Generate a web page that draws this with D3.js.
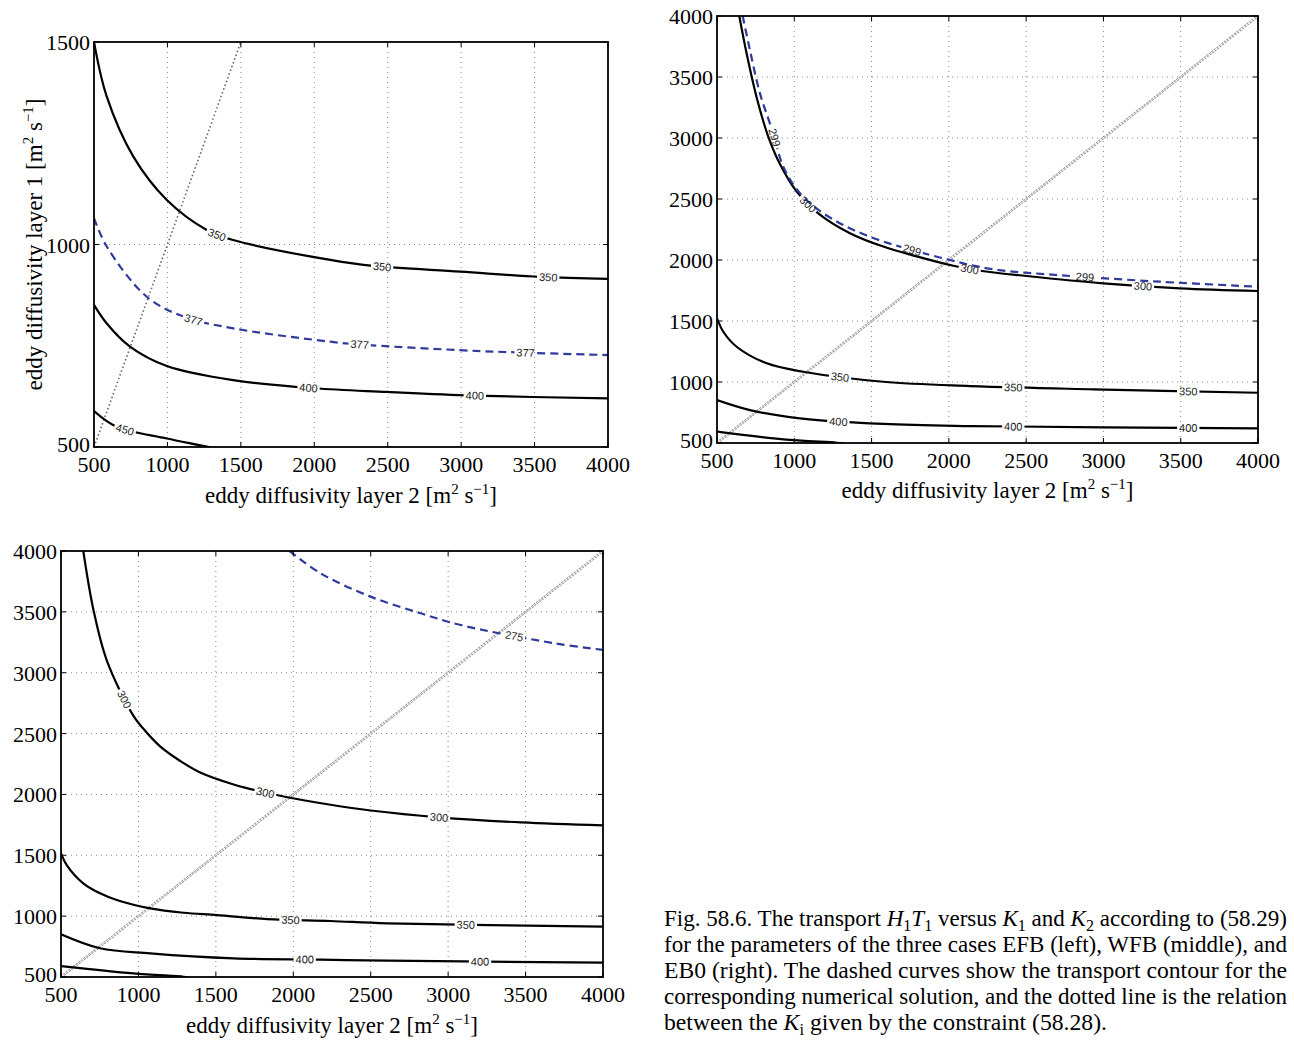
<!DOCTYPE html>
<html>
<head>
<meta charset="utf-8">
<script src="https://cdn.jsdelivr.net/npm/d3@7"></script>
<style>
    body { margin: 0; background: #fff; }
    svg { display: block; }
</style>
</head>
<body>
<div id="canvas"></div>
<script>
"use strict";

let svgWidth = 1294;
let svgHeight = 1040;

/* ---------------- DATA ---------------- */
// each curve: [K2, K1] pairs
let xTicks = [500, 1000, 1500, 2000, 2500, 3000, 3500, 4000];
let efbYTicks = [500, 1000, 1500];
let wideYTicks = [500, 1000, 1500, 2000, 2500, 3000, 3500, 4000];

let constraintLine = [[500, 500], [4000, 4000]];

// EFB (left)
let efb350 = [[500, 1500], [587, 1365], [768, 1217], [996, 1110], [1268, 1036], [1448, 1011],
    [2109, 962], [2402, 947], [2995, 933], [3541, 920], [4005, 915]];
let efb377 = [[500, 1065], [587, 995], [859, 871], [1109, 822], [1448, 793], [2109, 760],
    [2314, 753], [2995, 739], [3425, 733], [4005, 727]];
let efb400 = [[500, 851], [587, 805], [745, 748], [996, 700], [1448, 665], [2000, 645],
    [2496, 636], [3084, 627], [4005, 620]];
let efb450 = [[500, 589], [655, 550], [996, 521], [1268, 501], [1320, 496]];

// WFB (middle)
let wfb300 = [[644, 4002], [692, 3690], [757, 3330], [832, 3010], [908, 2785], [1016, 2560],
    [1155, 2383], [1360, 2220], [1576, 2110], [1792, 2030], [2029, 1953], [2201, 1912],
    [2504, 1869], [2999, 1809], [3495, 1768], [4000, 1746]];
let wfb299 = [[666, 4002], [713, 3721], [778, 3366], [864, 3038], [929, 2765], [1037, 2547],
    [1188, 2383], [1469, 2200], [2007, 2000], [2287, 1924], [2719, 1875], [3366, 1822],
    [4000, 1781]];
let wfb350 = [[500, 1522], [541, 1412], [627, 1289], [822, 1153], [1058, 1084], [1576, 1002],
    [2137, 967], [2934, 940], [4000, 912]];
let wfb400 = [[500, 852], [713, 770], [1037, 702], [1576, 656], [2137, 639], [4000, 620]];
let wfb450 = [[500, 593], [929, 530], [1274, 502], [1320, 496]];

// EB0 (right)
let eb0300 = [[644, 4000], [709, 3520], [796, 3100], [968, 2645], [1032, 2540], [1140, 2395],
    [1270, 2275], [1399, 2180], [1615, 2082], [1938, 1983], [2240, 1915], [2499, 1868],
    [2941, 1812], [3470, 1770], [4005, 1745]];
let eb0275 = [[1975, 4000], [2176, 3817], [2499, 3625], [2823, 3488], [3081, 3392],
    [3685, 3242], [4005, 3187]];
let eb0350 = [[500, 1516], [537, 1420], [644, 1270], [752, 1188], [860, 1133], [1076, 1064],
    [1291, 1028], [1507, 1009], [1831, 976], [2240, 960], [2607, 941], [4005, 913]];
let eb0400 = [[500, 851], [752, 736], [1076, 694], [1615, 653], [2176, 643], [2607, 634],
    [4005, 618]];
let eb0450 = [[500, 590], [968, 530], [1291, 502], [1320, 497]];

/* ---------------- PANELS ---------------- */
let panels = [
    {
        id: "efb", left: 94, right: 608, top: 42, bottom: 447,
        yDomain: [500, 1500], yTicks: efbYTicks, yTitle: true,
        xTitleY: 503, xTitleGap: " ",
        diag: "fine",
        curves: [
            { data: efb350, value: "350", dashed: false, labels: [1337, 2462, 3593] },
            { data: efb377, value: "377", dashed: true, labels: [1177, 2309, 3439] },
            { data: efb400, value: "400", dashed: false, labels: [1961, 3093] },
            { data: efb450, value: "450", dashed: false, labels: [711] }
        ]
    },
    {
        id: "wfb", left: 717, right: 1258, top: 16, bottom: 443,
        yDomain: [500, 4000], yTicks: wideYTicks, yTitle: false,
        xTitleY: 498, xTitleGap: "  ",
        diag: "hollow",
        curves: [
            { data: wfb300, value: "300", dashed: false, labels: [1089, 2135, 3256] },
            { data: wfb299, value: "299", dashed: true, labels: [872, 1762, 2881] },
            { data: wfb350, value: "350", dashed: false, labels: [1296, 2417, 3549] },
            { data: wfb400, value: "400", dashed: false, labels: [1285, 2417, 3549] },
            { data: wfb450, value: "450", dashed: false, labels: [] }
        ]
    },
    {
        id: "eb0", left: 61, right: 603, top: 551, bottom: 977,
        yDomain: [500, 4000], yTicks: wideYTicks, yTitle: false,
        xTitleY: 1033, xTitleGap: "  ",
        diag: "hollow",
        curves: [
            { data: eb0300, value: "300", dashed: false, labels: [909, 1820, 2941] },
            { data: eb0275, value: "275", dashed: true, labels: [3426] },
            { data: eb0350, value: "350", dashed: false, labels: [1982, 3114] },
            { data: eb0400, value: "400", dashed: false, labels: [2074, 3206] },
            { data: eb0450, value: "450", dashed: false, labels: [] }
        ]
    }
];

let serif = "'Liberation Serif', 'Times New Roman', serif";
let sans = "'Liberation Sans', Arial, sans-serif";
let dashBlue = "#2f3b9c";

let svg = d3.select("#canvas")
    .append("svg")
    .attr("width", svgWidth)
    .attr("height", svgHeight);

let defs = svg.append("defs");

/* find the point on a drawn path at a given pixel x */
function pointAtX(node, px) {
    let total = node.getTotalLength();
    let lo = 0, hi = total;
    for (let i = 0; i < 40; i++) {
        let mid = (lo + hi) / 2;
        if (node.getPointAtLength(mid).x < px) lo = mid; else hi = mid;
    }
    let p = node.getPointAtLength(lo);
    let a = node.getPointAtLength(Math.max(0, lo - 4));
    let b = node.getPointAtLength(Math.min(total, lo + 4));
    return { x: p.x, y: p.y, angle: Math.atan2(b.y - a.y, b.x - a.x) * 180 / Math.PI };
}

/* axis title with superscripts */
function unitTitle(g, layer, gap) {
    g.append("tspan").text("eddy diffusivity layer " + layer + " [m");
    g.append("tspan").attr("dy", -9).attr("font-size", "15px").text("2");
    g.append("tspan").attr("dy", 9).text(gap + "s");
    g.append("tspan").attr("dy", -9).attr("font-size", "15px").text("\u22121");
    g.append("tspan").attr("dy", 9).text("]");
}

/* ---------------- DRAW ONE PANEL ---------------- */
function drawPanel(p) {
    let xScale = d3.scaleLinear().domain([500, 4000]).range([p.left, p.right]);
    let yScale = d3.scaleLinear().domain(p.yDomain).range([p.bottom, p.top]);
    let w = p.right - p.left;
    let h = p.bottom - p.top;

    let g = svg.append("g").attr("id", "panel-" + p.id);

    defs.append("clipPath").attr("id", "clip-" + p.id)
        .append("rect")
        .attr("x", p.left).attr("y", p.top)
        .attr("width", w).attr("height", h);

    /* grid */
    let grid = g.append("g")
        .attr("stroke", "#8a8a8a")
        .attr("stroke-width", 1)
        .attr("stroke-dasharray", "1,4");

    xTicks.slice(1, -1).forEach(function (t) {
        grid.append("line")
            .attr("x1", xScale(t)).attr("x2", xScale(t))
            .attr("y1", p.top).attr("y2", p.bottom);
    });
    p.yTicks.slice(1, -1).forEach(function (t) {
        grid.append("line")
            .attr("x1", p.left).attr("x2", p.right)
            .attr("y1", yScale(t)).attr("y2", yScale(t));
    });

    /* constraint K1 = K2 */
    let line = d3.line().x(d => xScale(d[0])).y(d => yScale(d[1]));
    let diagG = g.append("g").attr("clip-path", "url(#clip-" + p.id + ")");
    if (p.diag === "fine") {
        diagG.append("path")
            .attr("d", line(constraintLine))
            .attr("fill", "none")
            .attr("stroke", "#666")
            .attr("stroke-width", 1.6)
            .attr("stroke-dasharray", "1.5,2.5");
    } else {
        diagG.append("path")
            .attr("d", line(constraintLine))
            .attr("fill", "none")
            .attr("stroke", "#8c8c8c")
            .attr("stroke-width", 2.4)
            .attr("stroke-dasharray", "2.2,1");
        diagG.append("path")
            .attr("d", line(constraintLine))
            .attr("fill", "none")
            .attr("stroke", "#fff")
            .attr("stroke-width", 0.8);
    }

    /* contours */
    let curveLine = d3.line()
        .x(d => xScale(d[0]))
        .y(d => yScale(d[1]))
        .curve(d3.curveCatmullRom.alpha(0.5));

    let contourG = g.append("g").attr("clip-path", "url(#clip-" + p.id + ")");
    let labelG = g.append("g");

    p.curves.forEach(function (c, ci) {
        let maskId = "mask-" + p.id + "-" + ci;
        let mask = defs.append("mask")
            .attr("id", maskId)
            .attr("maskUnits", "userSpaceOnUse")
            .attr("x", 0).attr("y", 0)
            .attr("width", svgWidth).attr("height", svgHeight);
        mask.append("rect")
            .attr("width", svgWidth).attr("height", svgHeight)
            .attr("fill", "#fff");

        let path = contourG.append("path")
            .attr("d", curveLine(c.data))
            .attr("fill", "none")
            .attr("stroke", c.dashed ? dashBlue : "#000")
            .attr("stroke-width", 2.2)
            .attr("stroke-dasharray", c.dashed ? "8,5" : null)
            .attr("mask", "url(#" + maskId + ")");

        c.labels.forEach(function (k2) {
            let pt = pointAtX(path.node(), xScale(k2));
            let t = labelG.append("text")
                .attr("transform", "translate(" + pt.x + "," + pt.y + ") rotate(" + pt.angle + ")")
                .attr("text-anchor", "middle")
                .attr("dy", "0.35em")
                .attr("font-family", sans)
                .attr("font-size", "11px")
                .attr("fill", "#222")
                .text(c.value);
            let tw = t.node().getComputedTextLength();
            mask.append("rect")
                .attr("x", -tw / 2 - 2).attr("y", -5)
                .attr("width", tw + 4).attr("height", 10)
                .attr("transform", "translate(" + pt.x + "," + pt.y + ") rotate(" + pt.angle + ")")
                .attr("fill", "#000");
        });
    });

    /* frame and inward ticks */
    g.append("rect")
        .attr("x", p.left).attr("y", p.top)
        .attr("width", w).attr("height", h)
        .attr("fill", "none")
        .attr("stroke", "#000")
        .attr("stroke-width", 1.8);

    let ticks = g.append("g").attr("stroke", "#000").attr("stroke-width", 1);
    xTicks.forEach(function (t) {
        ticks.append("line").attr("x1", xScale(t)).attr("x2", xScale(t))
            .attr("y1", p.bottom).attr("y2", p.bottom - 5);
        ticks.append("line").attr("x1", xScale(t)).attr("x2", xScale(t))
            .attr("y1", p.top).attr("y2", p.top + 5);
    });
    p.yTicks.forEach(function (t) {
        ticks.append("line").attr("x1", p.left).attr("x2", p.left + 5)
            .attr("y1", yScale(t)).attr("y2", yScale(t));
        ticks.append("line").attr("x1", p.right).attr("x2", p.right - 5)
            .attr("y1", yScale(t)).attr("y2", yScale(t));
    });

    /* tick labels */
    xTicks.forEach(function (t) {
        g.append("text")
            .attr("x", xScale(t))
            .attr("y", p.bottom + 25)
            .attr("text-anchor", "middle")
            .attr("font-family", serif)
            .attr("font-size", "22px")
            .text(t);
    });
    p.yTicks.forEach(function (t, i) {
        g.append("text")
            .attr("x", p.left - 4)
            .attr("y", yScale(t) + (i === 0 ? 4.5 : 8))
            .attr("text-anchor", "end")
            .attr("font-family", serif)
            .attr("font-size", "22px")
            .text(t);
    });

    /* axis titles */
    let xt = g.append("text")
        .attr("x", (p.left + p.right) / 2)
        .attr("y", p.xTitleY)
        .attr("text-anchor", "middle")
        .attr("font-family", serif)
        .attr("font-size", "23px");
    unitTitle(xt, 2, p.xTitleGap);

    if (p.yTitle) {
        let yt = g.append("text")
            .attr("transform", "translate(42," + ((p.top + p.bottom) / 2) + ") rotate(-90)")
            .attr("text-anchor", "middle")
            .attr("font-family", serif)
            .attr("font-size", "23px");
        unitTitle(yt, 1, " ");
    }
}

panels.forEach(drawPanel);

/* ---------------- CAPTION ---------------- */
// segments: [text, style] with style "" | "i" (italic) | "sub"
let captionLines = [
    [["Fig. 58.6. The transport ", ""], ["H", "i"], ["1", "sub"], ["T", "i"], ["1", "sub"],
        [" versus ", ""], ["K", "i"], ["1", "sub"], [" and ", ""], ["K", "i"], ["2", "sub"],
        [" according to (58.29)", ""]],
    [["for the parameters of the three cases EFB (left), WFB (middle), and", ""]],
    [["EB0 (right). The dashed curves show the transport contour for the", ""]],
    [["corresponding numerical solution, and the dotted line is the relation", ""]],
    [["between the ", ""], ["K", "i"], ["i", "sub"], [" given by the constraint (58.28).", ""]]
];
let captionWidths = [623, 623, 623, 623, 443];

captionLines.forEach(function (segs, li) {
    let t = svg.append("text")
        .attr("x", 664)
        .attr("y", 926 + li * 26)
        .attr("font-family", serif)
        .attr("font-size", "23px")
        .attr("textLength", captionWidths[li])
        .attr("lengthAdjust", "spacingAndGlyphs");
    let shifted = false;
    segs.forEach(function (s) {
        let ts = t.append("tspan").text(s[0]);
        if (s[1] === "i") ts.attr("font-style", "italic");
        if (s[1] === "sub") {
            ts.attr("font-size", "16px").attr("dy", shifted ? 0 : 5);
            shifted = true;
        } else if (shifted) {
            ts.attr("dy", -5);
            shifted = false;
        }
    });
});
</script>
</body>
</html>
